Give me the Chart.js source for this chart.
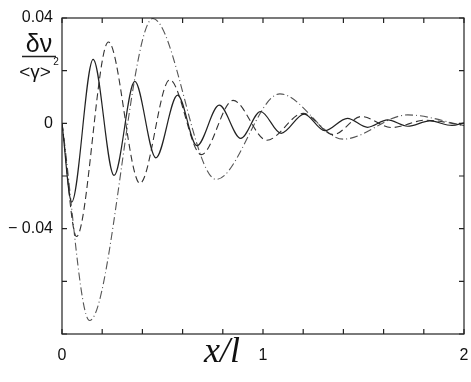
<!DOCTYPE html>
<html>
<head>
<meta charset="utf-8">
<script src="https://cdn.jsdelivr.net/npm/chart.js@4"></script>
<style>
  html, body { margin: 0; padding: 0; background: #fff; }
  #wrap { width: 471px; height: 382px; }
</style>
</head>
<body>
<div id="wrap"><canvas id="chart"></canvas></div>
<script>
// extrema (x/l, dv/<g>^2)
const xSolid = [0, 0.048, 0.155, 0.259, 0.362, 0.467, 0.575, 0.671, 0.782, 0.889, 0.988, 1.09, 1.205, 1.307, 1.42, 1.52, 1.62, 1.72, 1.83, 1.94, 2.0];
const ySolid = [0, -0.0299, 0.0243, -0.0198, 0.0159, -0.0131, 0.0107, -0.0085, 0.0069, -0.0057, 0.0045, -0.0038, 0.0035, -0.0028, 0.0019, -0.0015, 0.0013, -0.0011, 0.0009, -0.0008, 0.0002];

const xDashed = [0, 0.072, 0.231, 0.388, 0.536, 0.693, 0.851, 1.019, 1.2, 1.35, 1.49, 1.64, 1.81, 2.0];
const yDashed = [0, -0.043, 0.0309, -0.0228, 0.0165, -0.0119, 0.0087, -0.0064, 0.0038, -0.0043, 0.0026, -0.0016, 0.0012, -0.0008];

const xDashDot = [0, 0.137, 0.452, 0.767, 1.084, 1.40, 1.72, 2.0];
const yDashDot = [0, -0.0749, 0.0398, -0.0213, 0.0112, -0.0060, 0.0032, -0.0008];

const xLabels = { 0: '0', 1: '1', 2: '2' };
const yLabels = { '0.04': '0.04', '0': '0', '-0.04': '\u2212 0.04' };

function pts(xs, ys) {
  return xs.map((x, i) => ({ x: x, y: ys[i] }));
}

// frame + inward ticks on all four sides, axis title texts
const frame = {
  id: 'frame',
  afterDraw(chart) {
    const c = chart.ctx, a = chart.chartArea;
    const sx = chart.scales.x, sy = chart.scales.y;
    c.save();
    c.strokeStyle = '#222';
    c.lineWidth = 1.2;
    c.strokeRect(a.left, a.top, a.right - a.left, a.bottom - a.top);
    c.beginPath();
    sx.ticks.forEach(t => {
      const px = sx.getPixelForValue(t.value);
      c.moveTo(px, a.bottom); c.lineTo(px, a.bottom - 5);
      c.moveTo(px, a.top); c.lineTo(px, a.top + 5);
    });
    sy.ticks.forEach(t => {
      const py = sy.getPixelForValue(t.value);
      c.moveTo(a.left, py); c.lineTo(a.left + 5, py);
      c.moveTo(a.right, py); c.lineTo(a.right - 5, py);
    });
    c.stroke();

    c.fillStyle = '#111';
    c.font = 'italic 36px "Liberation Serif"';
    c.textAlign = 'center';
    c.textBaseline = 'alphabetic';
    c.fillText('x/l', 222, 362);

    c.font = '25px "Liberation Sans"';
    c.fillText('\u03b4\u03bd', 39, 52);
    c.beginPath();
    c.moveTo(22, 56.5); c.lineTo(56, 56.5);
    c.lineWidth = 1.6;
    c.stroke();
    c.font = '19px "Liberation Sans"';
    c.fillText('<\u03b3>', 35, 78);
    c.font = '10px "Liberation Sans"';
    c.fillText('2', 56, 65);
    c.restore();
  }
};

const ctx = document.getElementById('chart').getContext('2d');
new Chart(ctx, {
  type: 'line',
  data: {
    datasets: [
      {
        label: 'solid',
        data: pts(xSolid, ySolid),
        borderColor: '#222',
        borderWidth: 1.2
      },
      {
        label: 'dashed',
        data: pts(xDashed, yDashed),
        borderColor: '#333',
        borderWidth: 1.1,
        borderDash: [7, 4]
      },
      {
        label: 'dash-dot',
        data: pts(xDashDot, yDashDot),
        borderColor: '#555',
        borderWidth: 1.1,
        borderDash: [8, 3, 1, 3]
      }
    ]
  },
  options: {
    responsive: true,
    maintainAspectRatio: false,
    animation: false,
    layout: { padding: { top: 18, right: 7, left: 0, bottom: 0 } },
    elements: {
      point: { radius: 0 },
      line: { cubicInterpolationMode: 'monotone', fill: false }
    },
    plugins: {
      legend: { display: false },
      tooltip: { enabled: false }
    },
    scales: {
      x: {
        type: 'linear',
        min: 0,
        max: 2,
        grid: { display: false, drawTicks: false },
        border: { display: false },
        afterFit: s => { s.height = 48; s.paddingLeft = 0; s.paddingRight = 0; },
        ticks: {
          stepSize: 0.2,
          padding: 12,
          maxRotation: 0,
          autoSkip: false,
          color: '#111',
          font: { family: 'Liberation Sans', size: 16 },
          callback: v => xLabels[Math.round(v * 10) / 10] || ''
        }
      },
      y: {
        min: -0.08,
        max: 0.04,
        grid: { display: false, drawTicks: false },
        border: { display: false },
        afterFit: s => { s.width = 62; s.paddingTop = 0; s.paddingBottom = 0; },
        ticks: {
          stepSize: 0.02,
          padding: 9,
          color: '#111',
          font: { family: 'Liberation Sans', size: 16 },
          callback: v => yLabels[String(Math.round(v * 100) / 100)] || ''
        }
      }
    }
  },
  plugins: [frame]
});
</script>
</body>
</html>
